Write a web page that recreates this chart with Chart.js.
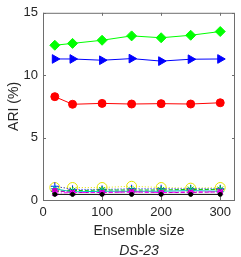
<!DOCTYPE html>
<html>
<head>
<meta charset="utf-8">
<script src="https://cdn.jsdelivr.net/npm/chart.js@4/dist/chart.umd.min.js"></script>
<style>
  html, body { margin: 0; padding: 0; background: #fff; overflow: hidden; }
  canvas { display: block; }
</style>
</head>
<body>
<canvas id="ari" width="241" height="257"></canvas>
<script>
  /* data */
  var ensembleSizes = [20, 50, 100, 150, 200, 250, 300];
  var greenDiamond = [12.4, 12.55, 12.8, 13.15, 13.0, 13.2, 13.5];
  var blueTriangle = [11.3, 11.3, 11.2, 11.33, 11.13, 11.28, 11.3];
  var redCircle = [8.28, 7.67, 7.74, 7.69, 7.72, 7.69, 7.79];
  var yellowCircle = [1.0, 1.0, 1.0, 1.1, 1.0, 0.95, 1.0];
  var blueCross = [1.1, 0.85, 0.85, 0.9, 0.9, 0.9, 0.9];
  var greenStar = [0.7, 0.75, 0.8, 0.8, 0.8, 0.85, 0.85];
  var cyanStar = [0.9, 0.65, 0.7, 0.7, 0.7, 0.75, 0.7];
  var magentaSquare = [0.75, 0.6, 0.6, 0.65, 0.6, 0.6, 0.65];
  var magentaX = [0.55, 0.6, 0.6, 0.65, 0.6, 0.65, 0.65];
  var blackDot = [0.45, 0.45, 0.45, 0.45, 0.45, 0.45, 0.45];
  var xTicks = [0, 100, 200, 300];
  var yTicks = [0, 5, 10, 15];
  var datasetName = "DS-23";

  const pts = (vals) => vals.map((v, i) => ({ x: ensembleSizes[i], y: v }));

  const series = (vals, color, style, opts) => Object.assign({
    data: pts(vals),
    borderColor: color,
    backgroundColor: color,
    pointBorderColor: color,
    pointBackgroundColor: color,
    pointStyle: style,
    pointRadius: 3,
    borderWidth: 1,
    pointBorderWidth: 1
  }, opts || {});

  /* box + inward ticks like the original, plus the dataset caption */
  const boxPlugin = {
    id: "box",
    afterDraw(chart) {
      const { ctx, chartArea: a, scales } = chart;
      ctx.save();
      ctx.strokeStyle = "#6e6e6e";
      ctx.lineWidth = 1;
      ctx.strokeRect(a.left + 0.5, a.top + 0.5, a.right - a.left - 1, a.bottom - a.top);
      ctx.beginPath();
      xTicks.forEach((t) => {
        const px = Math.round(scales.x.getPixelForValue(t)) + 0.5;
        ctx.moveTo(px, a.bottom); ctx.lineTo(px, a.bottom - 3);
        ctx.moveTo(px, a.top); ctx.lineTo(px, a.top + 3);
      });
      yTicks.forEach((t) => {
        const py = Math.round(scales.y.getPixelForValue(t)) + 0.5;
        ctx.moveTo(a.left, py); ctx.lineTo(a.left + 3, py);
        ctx.moveTo(a.right, py); ctx.lineTo(a.right - 3, py);
      });
      ctx.stroke();

      ctx.fillStyle = "#262626";
      ctx.font = "italic 14px 'Liberation Sans'";
      ctx.textAlign = "center";
      ctx.textBaseline = "middle";
      ctx.fillText(datasetName, (a.left + a.right) / 2, 251);
      ctx.restore();
    }
  };

  new Chart("ari", {
    type: "line",
    data: {
      datasets: [
        series(blackDot, "#000000", "circle", { pointRadius: 2 }),
        series(magentaX, "#ff00ff", "crossRot", { borderDash: [4, 2, 1, 2], pointRadius: 4 }),
        series(magentaSquare, "#c000c0", "rect", { borderDash: [4, 2] }),
        series(cyanStar, "#00c0c0", "star", { pointRadius: 4 }),
        series(greenStar, "#00c000", "star", { borderDash: [4, 2], pointRadius: 4 }),
        series(blueCross, "#0000ff", "cross", { borderDash: [1, 2], pointRadius: 4 }),
        series(yellowCircle, "#e6e600", "circle", { borderDash: [1, 2], pointRadius: 5, pointBackgroundColor: "rgba(0,0,0,0)" }),
        series(redCircle, "#ff0000", "circle", { pointRadius: 4 }),
        series(blueTriangle, "#0000ff", "triangle", { pointRotation: 90, pointRadius: 5 }),
        series(greenDiamond, "#00ff00", "rectRot", { pointRadius: 5 })
      ]
    },
    options: {
      responsive: false,
      animation: false,
      maintainAspectRatio: false,
      layout: { padding: { left: 0, right: 2, top: 5, bottom: 17 } },
      plugins: {
        legend: { display: false },
        tooltip: { enabled: false },
        title: { display: false }
      },
      scales: {
        x: {
          type: "linear",
          min: 0,
          max: 325,
          afterBuildTicks: (s) => { s.ticks = xTicks.map((v) => ({ value: v })); },
          afterFit: (s) => { s.height = 40; },
          grid: { display: false, drawTicks: false },
          border: { display: false },
          ticks: { color: "#262626", padding: 5, maxRotation: 0, font: { family: "Liberation Sans", size: 13 } },
          title: {
            display: true,
            text: "Ensemble size",
            color: "#262626",
            padding: { top: 0, bottom: 0 },
            font: { family: "Liberation Sans", size: 14 }
          }
        },
        y: {
          min: 0,
          max: 15,
          afterBuildTicks: (s) => { s.ticks = yTicks.map((v) => ({ value: v })); },
          afterFit: (s) => { s.width = 43; },
          grid: { display: false, drawTicks: false },
          border: { display: false },
          ticks: { color: "#262626", padding: 5, font: { family: "Liberation Sans", size: 13 } },
          title: {
            display: true,
            text: "ARI (%)",
            color: "#262626",
            padding: { top: 6, bottom: 0 },
            font: { family: "Liberation Sans", size: 14 }
          }
        }
      }
    },
    plugins: [boxPlugin]
  });
</script>
</body>
</html>
